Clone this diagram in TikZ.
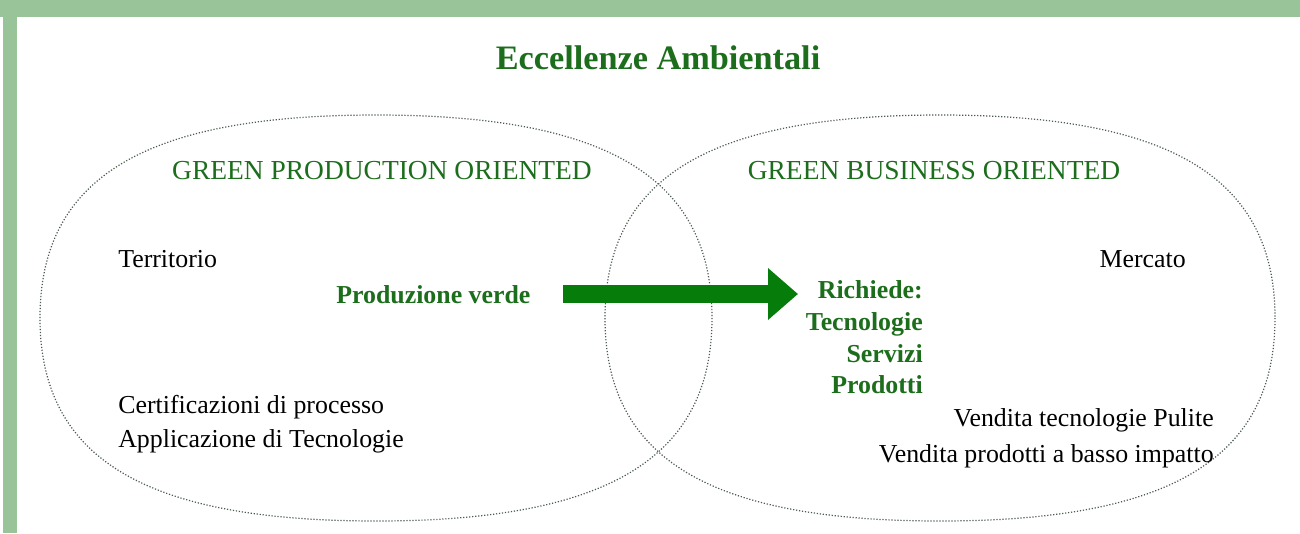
\documentclass[tikz,border=0pt]{standalone}
\usepackage{fontspec}
\setmainfont{Liberation Serif}
\usetikzlibrary{arrows.meta}
\definecolor{framegreen}{RGB}{153,196,154}
\definecolor{txtgreen}{RGB}{28,110,28}
\definecolor{arrgreen}{RGB}{6,125,10}
\definecolor{dotgray}{RGB}{75,90,78}
\newcommand\sellipse[4]{%
  \draw[ovalline] (#1+#3,#2) .. controls +(0,0.69*#4) and +(0.69*#3,0) .. (#1,#2+#4)
    .. controls +(-0.69*#3,0) and +(0,0.69*#4) .. (#1-#3,#2)
    .. controls +(0,-0.69*#4) and +(-0.69*#3,0) .. (#1,#2-#4)
    .. controls +(0.69*#3,0) and +(0,-0.69*#4) .. (#1+#3,#2) -- cycle;}
\begin{document}
\begin{tikzpicture}[x=0.75pt,y=-0.75pt,
  ovalline/.style={draw=dotgray,line width=0.9pt,dash pattern=on 0.9pt off 1.35pt},
  titletxt/.style={inner sep=0,text=txtgreen,font=\fontsize{25.7}{30}\selectfont\bfseries},
  headtxt/.style={inner sep=0,text=txtgreen,font=\fontsize{20.6}{25}\selectfont},
  bodytxt/.style={inner sep=0,text=black,font=\fontsize{19.4}{23}\selectfont},
  greenbold/.style={inner sep=0,text=txtgreen,font=\fontsize{19.4}{23}\selectfont\bfseries},
  blockarrow/.style={draw=arrgreen,line width=13.5pt,-{Triangle[length=22.5pt,width=37.5pt]}}]
\useasboundingbox (0,0) rectangle (1300,533);
\fill[white] (0,0) rectangle (1300,533);
% frame
\fill[framegreen] (0,0) rectangle (1300,17);
\fill[framegreen] (3,0) rectangle (17,533);
% ovals
\sellipse{376}{318}{336}{203}
\sellipse{940}{318}{335}{203}
% texts
\node[titletxt,anchor=base] (title) at (658,69) {Eccellenze Ambientali};
\node[headtxt,anchor=base] (gpo) at (382,179) {GREEN PRODUCTION ORIENTED};
\node[headtxt,anchor=base] (gbo) at (934,179) {GREEN BUSINESS ORIENTED};
\node[bodytxt,anchor=base west] (terr) at (118,267) {Territorio};
\node[bodytxt,anchor=base east] (merc) at (1186,267) {Mercato};
\node[greenbold,anchor=base west] (pv) at (336,303) {Produzione verde};
\node[greenbold,anchor=base east] (ric) at (923,298) {Richiede:};
\node[greenbold,anchor=base east] (tec) at (923,330) {Tecnologie};
\node[greenbold,anchor=base east] (ser) at (923,362) {Servizi};
\node[greenbold,anchor=base east] (pro) at (923,393) {Prodotti};
\node[bodytxt,anchor=base west] (cert) at (118,413) {Certificazioni di processo};
\node[bodytxt,anchor=base west] (appl) at (118,447) {Applicazione di Tecnologie};
\node[bodytxt,anchor=base east] (vtp) at (1214,426) {Vendita tecnologie Pulite};
\node[bodytxt,anchor=base east] (vpb) at (1214,462) {Vendita prodotti a basso impatto};
% arrow
\coordinate (arrs) at (563,294);
\coordinate (arre) at (798,294);
\draw[blockarrow] (arrs) -- (arre);
\end{tikzpicture}
\end{document}
